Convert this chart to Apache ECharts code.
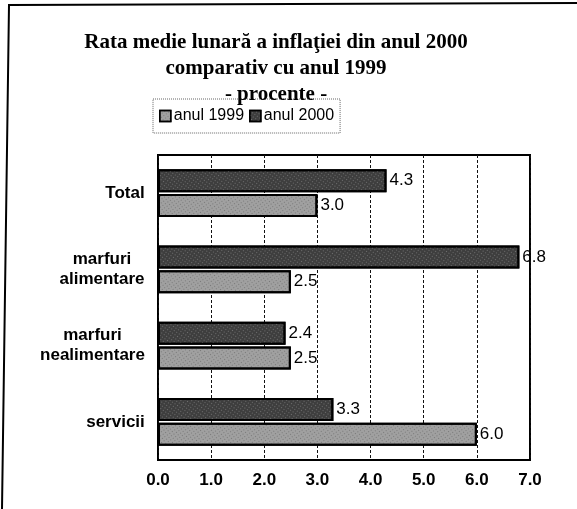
<!DOCTYPE html>
<html>
<head>
<meta charset="utf-8">
<script src="https://cdn.jsdelivr.net/npm/echarts@6/dist/echarts.min.js"></script>
<style>
    html, body { margin: 0; padding: 0; background: #fff; }
    #chart { width: 577px; height: 509px; }
</style>
</head>
<body>
<div id="chart"></div>
<script>
// categories, top to bottom
const categories = ['Total', 'marfuri\nalimentare', 'marfuri\nnealimentare', 'servicii'];
const seriesNames = ['anul 1999', 'anul 2000'];
const values1999 = [3.0, 2.5, 2.5, 6.0];
const values2000 = [4.3, 6.8, 2.4, 3.3];
const xTicks = [0, 1, 2, 3, 4, 5, 6, 7];

const catFont = 'bold 17px "Liberation Sans"';

// width of the longest line, so multi-line labels get centred lines
function lineWidth(text) {
    let ctx = document.createElement('canvas').getContext('2d');
    ctx.font = catFont;
    return Math.max(...text.split('\n').map((t) => ctx.measureText(t).width));
}

const rich = {};
categories.forEach((c, i) => {
    rich['c' + i] = {
        width: Math.ceil(lineWidth(c)),
        align: 'center',
        fontFamily: 'Liberation Sans',
        fontWeight: 'bold',
        fontSize: 17,
        lineHeight: 20,
        color: '#000',
    };
});

const chart = echarts.init(document.getElementById('chart'));

const labelStyle = {
    show: true,
    position: 'right',
    distance: 3,
    color: '#000',
    fontFamily: 'Liberation Sans',
    fontSize: 17,
    formatter: (p) => p.value.toFixed(1),
};

let option = {
    animation: false,
    backgroundColor: '#fff',
    title: {
        text: 'Rata medie lunară a inflaţiei din anul 2000\ncomparativ cu anul 1999\n- procente -',
        left: 271,
        textAlign: 'center',
        top: 25,
        textStyle: {
            fontFamily: 'Liberation Serif',
            fontWeight: 'bold',
            fontSize: 21,
            lineHeight: 26,
            color: '#000',
        },
    },
    legend: {
        data: seriesNames,
        top: 99,
        left: 153,
        icon: 'rect',
        itemWidth: 11,
        itemHeight: 11,
        itemGap: 5,
        padding: [9, 6],
        borderColor: '#666',
        borderWidth: 1,
        borderType: 'dotted',
        itemStyle: { borderColor: '#000', borderWidth: 1.5 },
        textStyle: {
            fontFamily: 'Liberation Sans',
            fontSize: 16,
            color: '#000',
            padding: [0, 0, 0, -2],
        },
    },
    grid: {
        left: 158,
        right: 47,
        top: 155,
        bottom: 49,
        show: true,
        borderColor: '#000',
        borderWidth: 2,
    },
    xAxis: {
        type: 'value',
        min: xTicks[0],
        max: xTicks[xTicks.length - 1],
        interval: 1,
        axisLine: { show: false },
        axisTick: { show: false },
        axisLabel: {
            color: '#000',
            fontFamily: 'Liberation Sans',
            fontWeight: 'bold',
            fontSize: 17,
            margin: 12,
            formatter: (v) => v.toFixed(1),
        },
        splitLine: {
            show: true,
            lineStyle: { color: '#111', width: 1, type: [3, 2] },
        },
    },
    yAxis: {
        type: 'category',
        data: categories,
        inverse: true,
        axisLine: { show: false },
        axisTick: { show: false },
        axisLabel: {
            margin: 13,
            formatter: (v, i) => v.split('\n').map((t) => '{c' + i + '|' + t + '}').join('\n'),
            rich: rich,
        },
    },
    series: [
        {
            name: seriesNames[1],
            type: 'bar',
            data: values2000,
            barWidth: 23,
            barGap: '8%',
            barCategoryGap: '40%',
            itemStyle: {
                color: '#3e3e3e',
                borderColor: '#000',
                borderWidth: 2,
                decal: {
                    symbol: 'rect',
                    symbolSize: 1,
                    color: 'rgba(170,170,170,0.45)',
                    dashArrayX: [1, 2],
                    dashArrayY: [1, 2],
                    rotation: 0.6,
                },
            },
            label: labelStyle,
        },
        {
            name: seriesNames[0],
            type: 'bar',
            data: values1999,
            barWidth: 23,
            barGap: '8%',
            itemStyle: {
                color: '#a0a0a0',
                borderColor: '#000',
                borderWidth: 2,
                decal: {
                    symbol: 'rect',
                    symbolSize: 1,
                    color: 'rgba(60,60,60,0.4)',
                    dashArrayX: [1, 2],
                    dashArrayY: [1, 2],
                    rotation: -0.6,
                },
            },
            label: labelStyle,
        },
    ],
    graphic: [
        {
            // edge of the scanned page frame: left and top only
            type: 'polyline',
            shape: { points: [[2, 509], [9, 5], [577, 3]] },
            style: { fill: 'none', stroke: '#000', lineWidth: 2 },
            silent: true,
        },
    ],
};

chart.setOption(option);
</script>
</body>
</html>
